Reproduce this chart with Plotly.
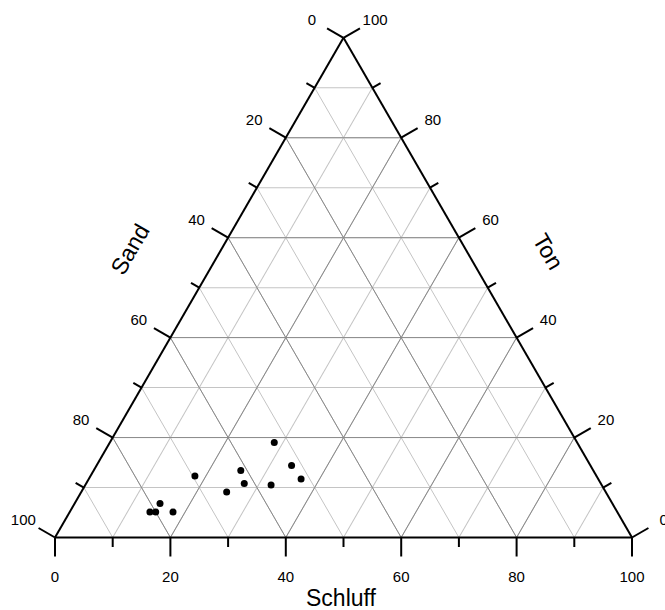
import math
import plotly.graph_objects as go

# Soil texture samples (percent): Sand, Schluff (silt), Ton (clay)
sand = [52.5, 69.6, 61.1, 51.8, 61.8, 51.5, 57.3, 65.7, 78.4, 81.0, 80.0, 77.0]
schluff = [28.5, 18.1, 25.5, 33.8, 27.4, 36.8, 32.2, 25.2, 14.8, 13.9, 14.9, 17.9]
ton = [19.0, 12.3, 13.4, 14.4, 10.8, 11.7, 10.5, 9.1, 6.8, 5.1, 5.1, 5.1]

major_ticks = [0, 20, 40, 60, 80, 100]
minor_ticks = [10, 30, 50, 70, 90]
major_grid = [20, 40, 60, 80]
tick_labels = ["0", "20", "40", "60", "80", "100"]

FONT = "Liberation Sans, Arial, sans-serif"
W, H = 665, 610
X0, Y0 = 55.0, 537.5          # bottom-left corner of the triangle (px)
SIDE = 577.0                   # triangle side length (px)
S = SIDE / 100.0               # px per percent
SQ3 = math.sqrt(3) / 2

# Ternary placed so its corners sit on the overlay coordinate frame
tern_domain_x = [X0 / W, (X0 + SIDE) / W]
tern_domain_y = [(H - Y0) / H, (H - (Y0 - SIDE * SQ3)) / H]

MAJOR_LEN = 19 / S
MINOR_LEN = 9.5 / S
SIDE_LABEL_DIST = 36.5 / S
BOTTOM_LABEL_DIST = 38.5 / S
LABEL_DROP = 2.0 / S


def to_xy(sa, si, to):
    """Percent composition -> overlay coordinates (base = 100 units)."""
    return si + to / 2.0, to * SQ3


# Each edge: point on the edge for a value, and its outward normal
edges = [
    (lambda v: to_xy(v, 0, 100 - v), (-SQ3, 0.5), SIDE_LABEL_DIST),     # Sand, left
    (lambda v: to_xy(100 - v, v, 0), (0.0, -1.0), BOTTOM_LABEL_DIST),   # Schluff, bottom
    (lambda v: to_xy(0, 100 - v, v), (SQ3, 0.5), SIDE_LABEL_DIST),      # Ton, right
]

tick_x, tick_y, lab_x, lab_y, lab_t = [], [], [], [], []
for point, (nx, ny), dist in edges:
    for vals, length in ((major_ticks, MAJOR_LEN), (minor_ticks, MINOR_LEN)):
        for v in vals:
            px, py = point(v)
            tick_x += [px, px + nx * length, None]
            tick_y += [py, py + ny * length, None]
    for v, t in zip(major_ticks, tick_labels):
        px, py = point(v)
        lab_x.append(px + nx * dist)
        lab_y.append(py + ny * dist - LABEL_DROP)
        lab_t.append(t)

# Darker grid lines every 20 % (a = Ton, b = Sand, c = Schluff)
ga, gb, gc = [], [], []
for v in major_grid:
    # constant Ton
    ga += [v, v, None]
    gb += [100 - v, 0, None]
    gc += [0, 100 - v, None]
    # constant Sand
    ga += [100 - v, 0, None]
    gb += [v, v, None]
    gc += [0, 100 - v, None]
    # constant Schluff
    ga += [100 - v, 0, None]
    gb += [0, 100 - v, None]
    gc += [v, v, None]

fig = go.Figure()

fig.add_trace(go.Scatter(
    x=tick_x, y=tick_y, mode="lines",
    line=dict(color="black", width=2),
    hoverinfo="skip", showlegend=False,
))
fig.add_trace(go.Scatter(
    x=lab_x, y=lab_y, mode="text", text=lab_t,
    textposition="middle center",
    textfont=dict(family=FONT, size=15, color="black"),
    hoverinfo="skip", showlegend=False,
))

fig.add_trace(go.Scatterternary(
    a=ga, b=gb, c=gc, mode="lines",
    line=dict(color="#8a8a8a", width=1),
    hoverinfo="skip", showlegend=False,
))

# Sample points: a = Ton (top), b = Sand (bottom left), c = Schluff (bottom right)
fig.add_trace(go.Scatterternary(
    a=ton, b=sand, c=schluff,
    mode="markers",
    marker=dict(color="black", size=7),
    showlegend=False,
))

tern_axis = dict(
    min=0,
    dtick=10,
    tick0=0,
    ticks="",
    showticklabels=False,
    showline=True,
    linecolor="black",
    linewidth=2,
    showgrid=True,
    gridcolor="#c4c4c4",
    gridwidth=1,
    title=dict(text=""),
)

fig.update_layout(
    width=W,
    height=H,
    margin=dict(l=0, r=0, t=0, b=0),
    paper_bgcolor="white",
    plot_bgcolor="white",
    font=dict(family=FONT, color="black"),
    xaxis=dict(range=[-X0 / S, (W - X0) / S], domain=[0, 1], visible=False, fixedrange=True),
    yaxis=dict(range=[(Y0 - H) / S, Y0 / S], domain=[0, 1], visible=False, fixedrange=True),
    ternary=dict(
        sum=100,
        domain=dict(x=tern_domain_x, y=tern_domain_y),
        bgcolor="white",
        aaxis=tern_axis,
        baxis=tern_axis,
        caxis=tern_axis,
    ),
    annotations=[
        dict(text="Sand", x=130 / W, y=1 - 249 / H, xref="paper", yref="paper",
             showarrow=False, textangle=-60, font=dict(size=23, family=FONT),
             xanchor="center", yanchor="middle"),
        dict(text="Ton", x=548 / W, y=1 - 251 / H, xref="paper", yref="paper",
             showarrow=False, textangle=60, font=dict(size=23, family=FONT),
             xanchor="center", yanchor="middle"),
        dict(text="Schluff", x=341 / W, y=1 - 598 / H, xref="paper", yref="paper",
             showarrow=False, font=dict(size=23, family=FONT),
             xanchor="center", yanchor="middle"),
    ],
)

fig.write_html("out.html")
